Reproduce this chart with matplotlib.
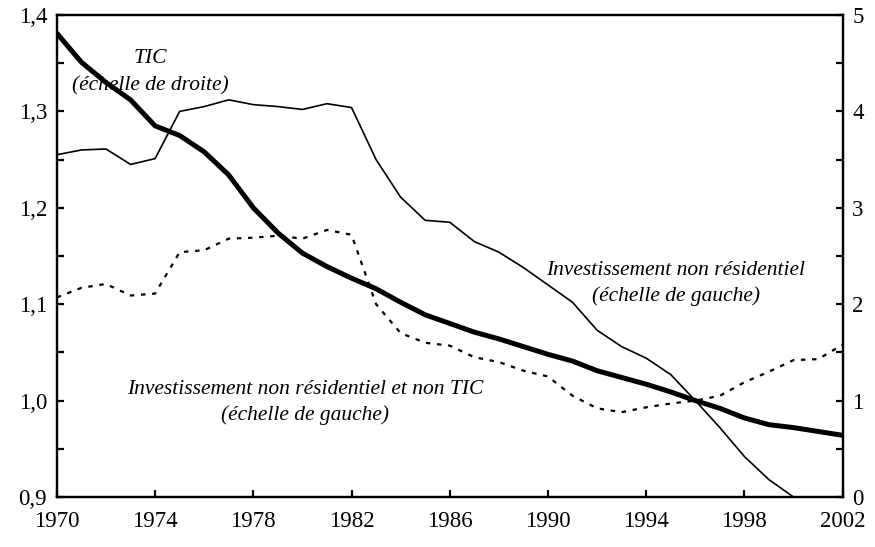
import matplotlib
matplotlib.use("Agg")
from matplotlib import pyplot as plt
from matplotlib.ticker import MultipleLocator, FuncFormatter
import numpy as np

# donnees
years = list(range(1970, 2003))

# investissement non residentiel (echelle de gauche)
invest_nr = [1.381, 1.351, 1.330, 1.312, 1.285, 1.275, 1.258, 1.234, 1.200, 1.174,
             1.153, 1.139, 1.127, 1.116, 1.102, 1.089, 1.080, 1.071, 1.064, 1.056,
             1.048, 1.041, 1.031, 1.024, 1.017, 1.009, 1.000, 0.992, 0.982, 0.975,
             0.972, 0.968, 0.964]

# investissement non residentiel et non TIC (echelle de gauche)
invest_nr_non_tic = [1.107, 1.117, 1.121, 1.109, 1.111, 1.154, 1.156, 1.168, 1.169, 1.171,
                     1.168, 1.177, 1.172, 1.100, 1.070, 1.060, 1.057, 1.045, 1.040, 1.031,
                     1.025, 1.005, 0.992, 0.988, 0.993, 0.997, 1.000, 1.005, 1.019, 1.030,
                     1.042, 1.043, 1.058]

# TIC (echelle de droite), la courbe sort du cadre apres 2000
tic_years = list(range(1970, 2001))
tic = [3.55, 3.60, 3.61, 3.45, 3.51, 4.00, 4.05, 4.12, 4.07, 4.05,
       4.02, 4.08, 4.04, 3.50, 3.11, 2.87, 2.85, 2.65, 2.54, 2.38,
       2.20, 2.02, 1.73, 1.56, 1.44, 1.27, 1.00, 0.72, 0.42, 0.18,
       0.00]

xticks = list(range(1970, 2003, 4))

plt.rcParams['font.family'] = ['Liberation Serif', 'DejaVu Serif']

fig = plt.figure(figsize=(8.75, 5.47), dpi=100)
ax = fig.add_axes([0.065, 0.0914, 0.898, 0.8812])
ax2 = ax.twinx()

ax.plot(years, invest_nr, color='black', lw=3.6, solid_joinstyle='round')
ax.plot(years, invest_nr_non_tic, color='black', lw=1.6, linestyle=(0, (2, 3)))
ax2.plot(tic_years, tic, color='black', lw=1.2)

ax.set_xlim(1970, 2002)
ax.set_ylim(0.9, 1.4)
ax2.set_ylim(0, 5)

ax.set_xticks(xticks)
ax.yaxis.set_major_locator(MultipleLocator(0.1))
ax.yaxis.set_minor_locator(MultipleLocator(0.05))
ax2.yaxis.set_major_locator(MultipleLocator(1))
ax2.yaxis.set_minor_locator(MultipleLocator(0.5))
ax.yaxis.set_major_formatter(FuncFormatter(lambda v, p: ("%.1f" % v).replace('.', ',')))

for a in (ax, ax2):
    for s in a.spines.values():
        s.set_linewidth(1.6)
    a.tick_params(which='both', direction='in', length=5, width=1.6, labelsize=16.5, pad=7)
ax.tick_params(axis='x', pad=10)

fs = 15.5
ax.text(1973.8, 1.355, "TIC", style='italic', fontsize=fs, ha='center', va='center')
ax.text(1973.8, 1.326, "(échelle de droite)", style='italic', fontsize=fs, ha='center', va='center')
ax.text(1995.2, 1.135, "Investissement non résidentiel", style='italic', fontsize=fs,
        ha='center', va='center')
ax.text(1995.2, 1.108, "(échelle de gauche)", style='italic', fontsize=fs, ha='center', va='center')
ax.text(1980.1, 1.011, "Investissement non résidentiel et non TIC", style='italic', fontsize=fs,
        ha='center', va='center')
ax.text(1980.1, 0.985, "(échelle de gauche)", style='italic', fontsize=fs, ha='center', va='center')

fig.savefig("out.png", dpi=100)
